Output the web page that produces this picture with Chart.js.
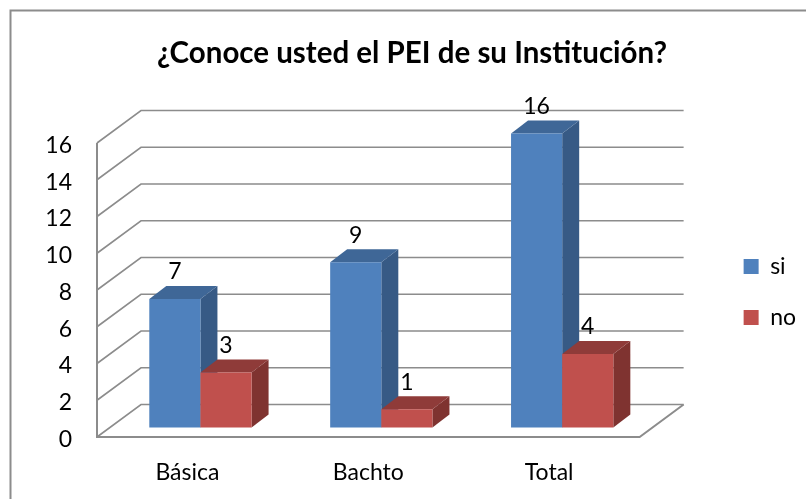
<!DOCTYPE html>
<html><head><meta charset="utf-8">
<style>html,body{margin:0;padding:0;background:#fff}canvas{display:block}#w{width:806px;height:499px;position:relative}</style>
<script src="https://cdn.jsdelivr.net/npm/chart.js@4"></script></head>
<body><div id="w"><canvas id="c" width="806" height="499"></canvas></div>
<script>
const categories=["Básica","Bachto","Total"];
const siValues=[7,9,16];
const noValues=[3,1,4];
const seriesNames=["si","no"];
const yTicks=[0,2,4,6,8,10,12,14,16];
const titleText="¿Conoce usted el PEI de su Institución?";
const FONT='Lato';
const wallDx=44,wallDy=-32.5,shiftX=13,shiftY=-9.5,depthX=17,depthY=-13;
const legendShift=42.5,tickNudge=2.5;
const shades={si:{front:"#4F81BD",side:"#375A85",top:"#3F6797"},no:{front:"#C0504D",side:"#7F3330",top:"#8F3B39"}};
const pal=[shades.si,shades.no];
function poly(ctx,pts,fill){ctx.beginPath();pts.forEach((p,i)=>i?ctx.lineTo(p[0],p[1]):ctx.moveTo(p[0],p[1]));ctx.closePath();ctx.fillStyle=fill;ctx.fill();}
const scene={id:"scene",
afterLayout(ch){ch.legend.top+=legendShift;ch.legend.bottom+=legendShift;
 ch.scales.y.getLabelItems().forEach(it=>{it.options.translation[1]+=tickNudge;});},
beforeDatasetsDraw(ch){const {ctx,scales:{x,y}}=ch;const L=x.left,R=x.right;
 ctx.save();ctx.strokeStyle="#8C8C8C";ctx.lineWidth=1.6;
 yTicks.forEach(v=>{const p=y.getPixelForValue(v);ctx.beginPath();ctx.moveTo(L,p);ctx.lineTo(L+wallDx,p+wallDy);ctx.lineTo(R+wallDx,p+wallDy);ctx.stroke();});
 const b=y.getPixelForValue(0),t=y.getPixelForValue(16);
 ctx.lineWidth=2;ctx.beginPath();ctx.moveTo(L,t);ctx.lineTo(L,b);ctx.lineTo(R,b);ctx.lineTo(R+wallDx,b+wallDy);ctx.stroke();
 ctx.restore();
},
beforeDatasetDraw(){return false;},
afterDatasetsDraw(ch){const ctx=ch.ctx;
 ch.data.datasets.forEach((d,i)=>{const m=ch.getDatasetMeta(i),s=pal[i];
  ctx.save();ctx.translate(shiftX,shiftY);
  m.data.forEach(e=>{const l=e.x-e.width/2,r=e.x+e.width/2,t=e.y,b=e.base;
   poly(ctx,[[r,t],[r+depthX,t+depthY],[r+depthX,b+depthY],[r,b]],s.side);
   poly(ctx,[[l,t],[l+depthX,t+depthY],[r+depthX,t+depthY],[r,t]],s.top);});
  m.controller.draw();
  ctx.restore();});
 ctx.save();ctx.fillStyle="#000";ctx.font='23px '+FONT;ctx.textAlign="center";ctx.textBaseline="middle";
 ch.data.datasets.forEach((d,i)=>{ch.getDatasetMeta(i).data.forEach((e,j)=>{ctx.fillText(String(d.data[j]),e.x+shiftX,e.y+shiftY-27);});});
 ctx.restore();},
afterDraw(ch){const ctx=ch.ctx;ctx.save();ctx.strokeStyle="#8C8C8C";ctx.lineWidth=2;ctx.beginPath();ctx.moveTo(10.5,499);ctx.lineTo(10.5,10.5);ctx.lineTo(806,10.5);ctx.stroke();ctx.restore();}
};
new Chart(document.getElementById("c"),{type:"bar",
data:{labels:categories,datasets:[
 {label:seriesNames[0],data:siValues,backgroundColor:shades.si.front},
 {label:seriesNames[1],data:noValues,backgroundColor:shades.no.front}]},
options:{responsive:false,animation:false,
 layout:{padding:{left:18,right:0,top:0,bottom:0}},
 datasets:{bar:{categoryPercentage:0.5655,barPercentage:1}},
 plugins:{
  title:{display:true,text:titleText,color:"#000",font:{family:FONT,size:29.5,weight:"bold"},padding:{top:36,bottom:71.6}},
  legend:{display:true,position:"right",maxWidth:91,labels:{boxWidth:15,boxHeight:15,padding:28,color:"#000",font:{family:FONT,size:23}}},
  tooltip:{enabled:false}},
 scales:{
  x:{afterFit(s){s.height=62;},grid:{display:false},border:{display:false},ticks:{color:"#000",font:{family:FONT,size:23},padding:14}},
  y:{min:0,max:16,afterFit(s){s.width=79;},grid:{display:false},border:{display:false},ticks:{stepSize:2,color:"#000",font:{family:FONT,size:23},padding:17}},
  y2:{position:"right",afterFit(s){s.width=76;},grid:{display:false},border:{display:false},ticks:{display:false}}
 }},
plugins:[scene]});
</script></body></html>
